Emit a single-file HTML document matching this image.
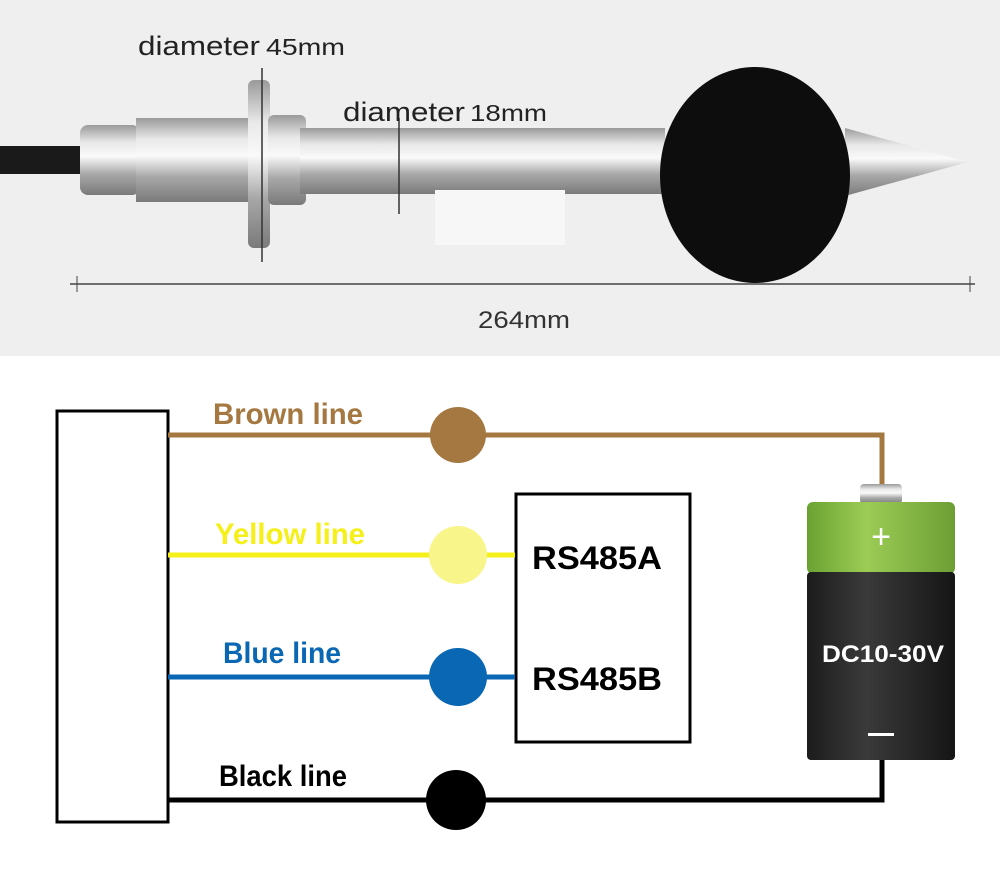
<!DOCTYPE html>
<html><head><style>body{margin:0;background:#fff}</style></head><body>
<svg width="1000" height="873" viewBox="0 0 1000 873" xmlns="http://www.w3.org/2000/svg" font-family="Liberation Sans, sans-serif">
<defs>
<linearGradient id="m" x1="0" y1="0" x2="0" y2="1">
<stop offset="0" stop-color="#9a9a9a"/><stop offset="0.25" stop-color="#e8e8e8"/><stop offset="0.45" stop-color="#fafafa"/><stop offset="0.7" stop-color="#a8a8a8"/><stop offset="1" stop-color="#7a7a7a"/></linearGradient>
<linearGradient id="bk" x1="0" y1="0" x2="1" y2="0">
<stop offset="0" stop-color="#1c1c1c"/><stop offset="0.4" stop-color="#3a3a3a"/><stop offset="1" stop-color="#151515"/></linearGradient>
<linearGradient id="gr" x1="0" y1="0" x2="1" y2="0">
<stop offset="0" stop-color="#6aa232"/><stop offset="0.4" stop-color="#9ccc55"/><stop offset="1" stop-color="#6c9e35"/></linearGradient>
</defs>
<rect x="0" y="0" width="1000" height="356" fill="#efefef"/>
<rect x="0" y="146" width="82" height="28" fill="#1a1a1a"/>
<rect x="80" y="125" width="60" height="70" rx="8" fill="url(#m)"/>
<rect x="136" y="118" width="120" height="84" fill="url(#m)"/>
<rect x="248" y="80" width="22" height="168" rx="6" fill="url(#m)"/>
<rect x="268" y="115" width="38" height="90" rx="6" fill="url(#m)"/>
<rect x="300" y="128" width="365" height="66" fill="url(#m)"/>
<rect x="435" y="190" width="130" height="55" fill="#f7f7f7"/>
<polygon points="845,128 968,162 845,196" fill="url(#m)"/>
<ellipse cx="755" cy="175" rx="95" ry="108" fill="#0d0d0d"/>
<line x1="262" y1="68" x2="262" y2="262" stroke="#333" stroke-width="1.5"/>
<line x1="399" y1="118" x2="399" y2="214" stroke="#333" stroke-width="1.5"/>
<line x1="70" y1="284" x2="975" y2="284" stroke="#444" stroke-width="1.5"/>
<line x1="77" y1="276" x2="77" y2="292" stroke="#444"/><line x1="970" y1="276" x2="970" y2="292" stroke="#444"/>
<text x="138" y="55" font-size="27" fill="#222" textLength="122" lengthAdjust="spacingAndGlyphs">diameter</text>
<text x="266" y="55" font-size="23" fill="#222" textLength="79" lengthAdjust="spacingAndGlyphs">45mm</text>
<text x="343" y="121" font-size="27" fill="#222" textLength="122" lengthAdjust="spacingAndGlyphs">diameter</text>
<text x="470" y="121" font-size="23" fill="#222" textLength="77" lengthAdjust="spacingAndGlyphs">18mm</text>
<text x="478" y="328" font-size="24" fill="#333" textLength="92" lengthAdjust="spacingAndGlyphs">264mm</text>

<rect x="57" y="411" width="111" height="411" fill="#fff" stroke="#000" stroke-width="3"/>
<rect x="516" y="494" width="174" height="248" fill="#fff" stroke="#000" stroke-width="3"/>
<polyline points="168,435 882,435 882,484" fill="none" stroke="#a47840" stroke-width="5"/>
<line x1="168" y1="555" x2="515" y2="555" stroke="#f5ef1a" stroke-width="5"/>
<line x1="168" y1="677" x2="515" y2="677" stroke="#0a67b4" stroke-width="5"/>
<polyline points="168,800 882,800 882,760" fill="none" stroke="#000" stroke-width="5"/>
<circle cx="458" cy="435" r="28" fill="#a47840"/>
<circle cx="458" cy="555" r="29" fill="#f8f58a"/>
<circle cx="458" cy="677" r="29" fill="#0a67b4"/>
<circle cx="456" cy="800" r="30" fill="#000"/>
<text x="213" y="424" font-size="30" font-weight="bold" fill="#a47840" textLength="150" lengthAdjust="spacingAndGlyphs">Brown line</text>
<text x="215" y="544" font-size="30" font-weight="bold" fill="#f5ef1a" textLength="150" lengthAdjust="spacingAndGlyphs">Yellow line</text>
<text x="223" y="663" font-size="30" font-weight="bold" fill="#0a67b4" textLength="118" lengthAdjust="spacingAndGlyphs">Blue line</text>
<text x="219" y="786" font-size="30" font-weight="bold" fill="#000" textLength="128" lengthAdjust="spacingAndGlyphs">Black line</text>
<text x="532" y="569" font-size="32" font-weight="bold" fill="#000" textLength="130" lengthAdjust="spacingAndGlyphs">RS485A</text>
<text x="532" y="690" font-size="32" font-weight="bold" fill="#000" textLength="130" lengthAdjust="spacingAndGlyphs">RS485B</text>
<rect x="860" y="484" width="42" height="20" rx="4" fill="url(#m)"/>
<rect x="807" y="502" width="148" height="72" rx="6" fill="url(#gr)"/>
<rect x="807" y="572" width="148" height="188" rx="4" fill="url(#bk)"/>
<text x="881" y="548" font-size="34" fill="#fff" text-anchor="middle">+</text>
<text x="822" y="662" font-size="24" font-weight="bold" fill="#fff" textLength="122" lengthAdjust="spacingAndGlyphs">DC10-30V</text>
<rect x="868" y="733" width="26" height="3" fill="#fff"/>
</svg>
</body></html>
